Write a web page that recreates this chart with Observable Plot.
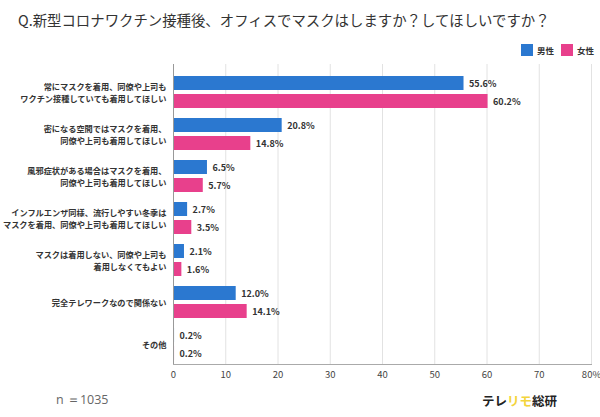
<!DOCTYPE html>
<html>
<head>
<meta charset="utf-8">
<script src="https://cdn.jsdelivr.net/npm/d3@7"></script>
<script src="https://cdn.jsdelivr.net/npm/@observablehq/plot@0.6"></script>
<style>
  html, body { margin: 0; padding: 0; background: #fff; }
  #wrap { position: relative; width: 600px; height: 417px; overflow: hidden; font-family: "Noto Sans CJK JP", "Noto Sans", sans-serif; }
  #chart { position: absolute; left: 0; top: 0; }
  #title { position: absolute; left: 18px; top: 9px; font-size: 14.4px; color: #333; white-space: nowrap; letter-spacing: 0; }
  .leg { position: absolute; top: 44px; display: flex; align-items: center; font-size: 8.5px; font-weight: bold; color: #333; }
  .sw { width: 12px; height: 12px; margin-right: 4px; }
  #n { position: absolute; left: 56px; top: 391px; font-size: 12.5px; color: #666; font-family: "Open Sans", "Noto Sans", sans-serif; }
  #logo { position: absolute; left: 482px; top: 391px; font-size: 12.5px; font-weight: bold; color: #222; letter-spacing: 0; }
  #logo span { color: #f3d43c; }
</style>
</head>
<body>
<div id="wrap">
  <div id="chart"></div>
  <div id="title">Q.新型コロナワクチン接種後、オフィスでマスクはしますか？してほしいですか？</div>
  <div class="leg" style="left:521px"><div class="sw" style="background:#2b78d0"></div>男性</div>
  <div class="leg" style="left:561px"><div class="sw" style="background:#e8408c"></div>女性</div>
  <div id="n">n ＝1035</div>
  <div id="logo">テレ<span>リモ</span>総研</div>
</div>
<script>
const categories = [
  "常にマスクを着用、同僚や上司も\nワクチン接種していても着用してほしい",
  "密になる空間ではマスクを着用、\n同僚や上司も着用してほしい",
  "風邪症状がある場合はマスクを着用、\n同僚や上司も着用してほしい",
  "インフルエンザ同様、流行しやすい冬季は\nマスクを着用、同僚や上司も着用してほしい",
  "マスクは着用しない、同僚や上司も\n着用しなくてもよい",
  "完全テレワークなので関係ない",
  "その他"
];
const series = ["男性", "女性"];
const male = [55.6, 20.8, 6.5, 2.7, 2.1, 12.0, 0.2];
const female = [60.2, 14.8, 5.7, 3.5, 1.6, 14.1, 0.2];
const xTicks = [0, 10, 20, 30, 40, 50, 60, 70, 80];
const colors = ["#2b78d0", "#e8408c"];

const maleData = categories.map((c, i) => ({cat: c, value: male[i], s: series[0]}));
const femaleData = categories.map((c, i) => ({cat: c, value: female[i], s: series[1]}));
const fmt = d => d.value.toFixed(1) + "%";

const chart = Plot.plot({
  width: 600,
  height: 417,
  marginTop: 64,
  marginBottom: 53,
  marginLeft: 173,
  marginRight: 9,
  style: {fontFamily: '"Noto Sans CJK JP", "Noto Sans", sans-serif', background: "transparent"},
  x: {domain: [0, 80]},
  y: {domain: categories, paddingInner: 0.233, paddingOuter: 0.105, align: 0.78},
  marks: [
    Plot.gridX(xTicks.filter(d => d > 0), {stroke: "#e2e2e2", strokeOpacity: 1}),
    Plot.barX(maleData, {x: "value", y: "cat", fill: colors[0], insetBottom: 18}),
    Plot.barX(femaleData, {x: "value", y: "cat", fill: colors[1], insetTop: 18}),
    Plot.text(maleData, {x: "value", y: "cat", dy: -8.5, dx: 5, text: fmt, textAnchor: "start", fontSize: 9, fontWeight: "bold", fill: "#333"}),
    Plot.text(femaleData, {x: "value", y: "cat", dy: 9.5, dx: 5, text: fmt, textAnchor: "start", fontSize: 9, fontWeight: "bold", fill: "#333"}),
    Plot.ruleX([0], {stroke: "#999"}),
    Plot.frame({anchor: "bottom", stroke: "#aaa"}),
    Plot.axisX({ticks: xTicks, tickSize: 0, tickPadding: 7, tickFormat: d => d === 80 ? "80%" : String(d), fontSize: 9.5, fill: "#444", label: null}),
    Plot.axisY({tickSize: 0, tickPadding: 7, fontSize: 8.2, fontWeight: "bold", fill: "#333", lineHeight: 1.45, label: null})
  ]
});
document.getElementById("chart").appendChild(chart);
</script>
</body>
</html>
